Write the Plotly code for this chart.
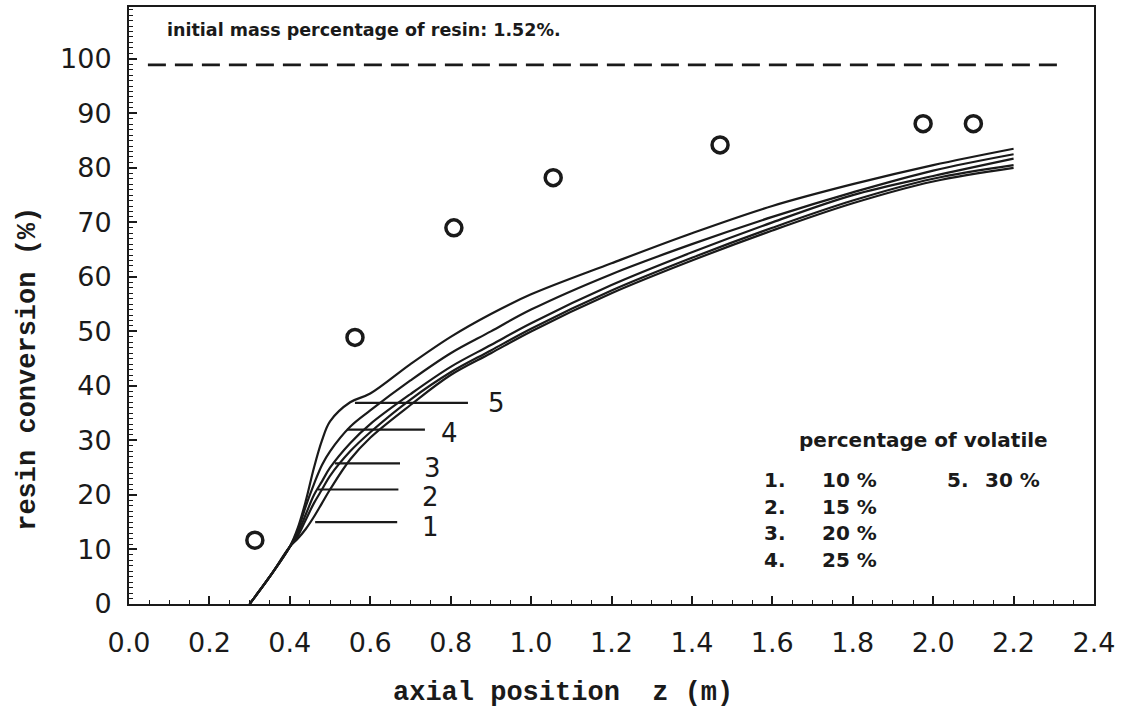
import plotly.graph_objects as go

# ---------------- data ----------------
z_model = [0.30, 0.35, 0.40, 0.42, 0.44, 0.46, 0.48, 0.50, 0.55, 0.60, 0.70, 0.80,
           0.90, 1.00, 1.20, 1.40, 1.60, 1.80, 2.00, 2.20]
conv_1 = [0, 5, 10.5, 12.0, 13.8, 16.0, 18.5, 21.0, 26.5, 30.5, 36.5, 42.0,
          46.0, 50.0, 57.0, 63.0, 68.5, 73.5, 77.5, 80.0]
conv_2 = [0, 5, 10.5, 12.5, 15.5, 18.5, 21.0, 23.5, 28.0, 31.5, 37.5, 42.5,
          46.5, 50.5, 57.5, 63.5, 69.0, 74.0, 78.0, 80.5]
conv_3 = [0, 5, 10.5, 13.0, 16.5, 20.0, 22.5, 25.0, 29.5, 33.0, 38.5, 43.5,
          47.5, 51.5, 58.5, 64.5, 70.0, 75.0, 78.5, 81.7]
conv_4 = [0, 5, 10.5, 13.5, 18.0, 22.0, 25.5, 28.0, 32.5, 35.5, 41.0, 46.0,
          50.0, 54.0, 60.5, 66.0, 71.0, 75.5, 79.5, 82.5]
conv_5 = [0, 5, 10.5, 14.0, 19.0, 25.0, 30.0, 33.5, 37.0, 38.6, 44.0, 49.0,
          53.2, 56.8, 62.5, 68.0, 73.0, 77.0, 80.5, 83.5]
model_curves = [conv_1, conv_2, conv_3, conv_4, conv_5]

z_exp = [0.313, 0.562, 0.808, 1.055, 1.47, 1.975, 2.10]
conv_exp = [11.7, 48.9, 69.0, 78.2, 84.2, 88.1, 88.1]

# marker lines for curve numbers: (z_start, z_end, level)
label_z_start = [0.463, 0.47, 0.512, 0.542, 0.562]
label_z_end = [0.667, 0.67, 0.674, 0.736, 0.843]
label_level = [15.0, 21.0, 25.8, 32.0, 36.9]
label_text = ["1", "2", "3", "4", "5"]
label_text_z = [0.749, 0.749, 0.754, 0.796, 0.913]
label_text_y = [14.1, 19.6, 25.0, 31.3, 36.9]

initial_z = [0.047, 2.316]
initial_level = [98.9, 98.9]

x_ticks = [0.0, 0.2, 0.4, 0.6, 0.8, 1.0, 1.2, 1.4, 1.6, 1.8, 2.0, 2.2, 2.4]
y_ticks = [0, 10, 20, 30, 40, 50, 60, 70, 80, 90, 100]

legend_nums = ["1.", "2.", "3.", "4."]
legend_vals = ["10 %", "15 %", "20 %", "25 %"]

# ---------------- figure ----------------
INK = "#1a1a1a"
fig = go.Figure()

for c in model_curves:
    fig.add_trace(go.Scatter(x=z_model, y=c, mode="lines", line_shape="spline",
                             line=dict(color=INK, width=2.2), showlegend=False))

for a, b, lv in zip(label_z_start, label_z_end, label_level):
    fig.add_trace(go.Scatter(x=[a, b], y=[lv, lv], mode="lines",
                             line=dict(color=INK, width=2.2), showlegend=False))

fig.add_trace(go.Scatter(x=initial_z, y=initial_level, mode="lines",
                         line=dict(color=INK, width=2.8, dash="18px,9px"),
                         showlegend=False))

fig.add_trace(go.Scatter(x=z_exp, y=conv_exp, mode="markers",
                         marker=dict(symbol="circle-open", size=16, color=INK,
                                     line=dict(width=3.5, color=INK)),
                         showlegend=False))

for t, xx, yy in zip(label_text, label_text_z, label_text_y):
    fig.add_annotation(x=xx, y=yy, text=t, showarrow=False, xanchor="center",
                       yanchor="middle",
                       font=dict(family="DejaVu Sans", size=26, color=INK))

W, H = 1123, 719
L, R, T, B = 129, 1094, 5, 604
def px(xp):
    return (xp - L) / (R - L)
def py(yp):
    return (B - yp) / (B - T)

bold = dict(family="DejaVu Sans", size=17.5, color=INK, weight="bold")
fig.add_annotation(xref="paper", yref="paper", x=px(165), y=py(28),
                   text="initial mass percentage of resin: 1.52%.",
                   showarrow=False, xanchor="left", yanchor="middle", font=bold)

leg_font = dict(family="DejaVu Sans", size=20, color=INK, weight="bold")
fig.add_annotation(xref="paper", yref="paper", x=px(923), y=py(439),
                   text="percentage of volatile", showarrow=False,
                   xanchor="center", yanchor="middle", font=leg_font)
rows_y = [480, 507, 533, 560]
for n, v, ry in zip(legend_nums, legend_vals, rows_y):
    fig.add_annotation(xref="paper", yref="paper", x=px(762), y=py(ry), text=n,
                       showarrow=False, xanchor="left", yanchor="middle", font=leg_font)
    fig.add_annotation(xref="paper", yref="paper", x=px(820), y=py(ry), text=v,
                       showarrow=False, xanchor="left", yanchor="middle", font=leg_font)
fig.add_annotation(xref="paper", yref="paper", x=px(945), y=py(480), text="5.",
                   showarrow=False, xanchor="left", yanchor="middle", font=leg_font)
fig.add_annotation(xref="paper", yref="paper", x=px(983), y=py(480), text="30 %",
                   showarrow=False, xanchor="left", yanchor="middle", font=leg_font)

mono = dict(family="Liberation Mono", size=27, color=INK, weight="bold")
fig.add_annotation(xref="paper", yref="paper", x=px(563), y=py(693),
                   text="axial position&nbsp;&nbsp;z (m)", showarrow=False,
                   xanchor="center", yanchor="middle", font=mono)
fig.add_annotation(xref="paper", yref="paper", x=px(28), y=py(368),
                   text="resin conversion (%)", showarrow=False, textangle=-90,
                   xanchor="center", yanchor="middle", font=mono)

tickfont = dict(family="DejaVu Sans", size=27, color=INK)
fig.update_xaxes(range=[0, 2.4], tickvals=x_ticks,
                 ticktext=[f"{v:.1f}" for v in x_ticks],
                 showgrid=False, zeroline=False, showline=True, linecolor=INK,
                 linewidth=2, mirror=True, ticks="inside", ticklen=8, tickwidth=1.5,
                 tickcolor=INK, tickfont=tickfont, ticklabelstandoff=14,
                 minor=dict(dtick=0.05, ticks="inside", ticklen=4, tickcolor=INK,
                            tickwidth=1.2, showgrid=False))
fig.update_yaxes(range=[0, 109.5], tickvals=y_ticks,
                 showgrid=False, zeroline=False, showline=True, linecolor=INK,
                 linewidth=2, mirror=True, ticks="inside", ticklen=8, tickwidth=1.5,
                 tickcolor=INK, tickfont=tickfont, ticklabelstandoff=10,
                 minor=dict(dtick=1, ticks="inside", ticklen=4, tickcolor=INK,
                            tickwidth=1.2, showgrid=False))

fig.update_layout(width=W, height=H, autosize=False,
                  margin=dict(l=L, r=W - R, t=T, b=H - B),
                  plot_bgcolor="white", paper_bgcolor="white", showlegend=False)

fig.write_html("out.html",
               config={"displayModeBar": False},
               post_script="document.body.style.margin='0';"
                           "document.body.style.padding='0';"
                           "document.body.style.overflow='hidden';")
